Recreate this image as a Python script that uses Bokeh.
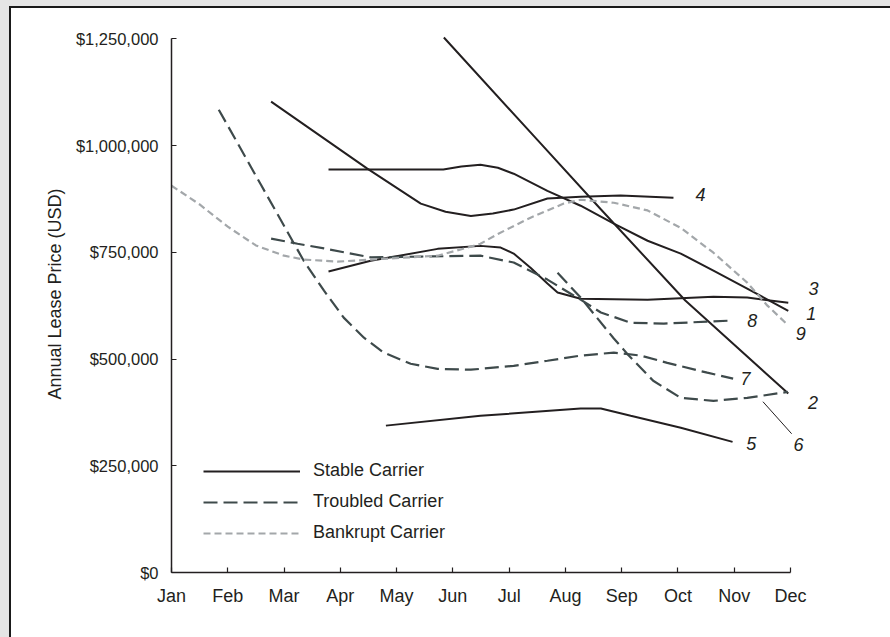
from bokeh.plotting import figure
from bokeh.layouts import column
from bokeh.models import Range1d, FixedTicker, NumeralTickFormatter, Legend, LegendItem
from bokeh.core.properties import value
from bokeh.embed import file_html
from bokeh.resources import INLINE

# ---------------- data (x = month index, Jan = 0; y = USD) ----------------
months = ["Jan", "Feb", "Mar", "Apr", "May", "Jun", "Jul", "Aug", "Sep", "Oct", "Nov", "Dec"]
y_ticks = [0, 250000, 500000, 750000, 1000000, 1250000]

# Stable carriers (solid)
s1_x = [2.79, 4.83, 5.15, 5.49, 5.80, 6.08, 6.68, 7.27, 7.86, 8.46, 9.05, 9.63, 10.23, 10.96]
s1_y = [944e3, 944e3, 951e3, 955e3, 948e3, 934e3, 894e3, 859e3, 817e3, 777e3, 747e3, 707e3, 665e3, 613e3]
s2_x = [4.84, 6.51, 7.62, 9.13, 10.96]
s2_y = [1253e3, 1012e3, 852e3, 637e3, 419e3]
s3_x = [2.79, 3.54, 4.73, 5.49, 5.85, 6.08, 6.38, 6.68, 6.86, 7.27, 8.46, 9.63, 10.23, 10.96]
s3_y = [705e3, 730e3, 758e3, 765e3, 761e3, 747e3, 714e3, 677e3, 656e3, 641e3, 639e3, 646e3, 644e3, 632e3]
s4_x = [1.77, 3.48, 4.07, 4.43, 4.87, 5.32, 5.71, 6.08, 6.68, 7.27, 7.98, 8.92]
s4_y = [1103e3, 946e3, 895e3, 864e3, 845e3, 835e3, 841e3, 850e3, 876e3, 880e3, 883e3, 878e3]
s5_x = [3.81, 5.49, 7.27, 7.63, 8.16, 9.05, 9.97]
s5_y = [344e3, 367e3, 384e3, 384e3, 367e3, 339e3, 306e3]

# Troubled carriers (long dash)
t6_x = [6.86, 7.27, 7.86, 8.10, 8.56, 9.05, 9.63, 10.23, 10.95]
t6_y = [702e3, 644e3, 548e3, 512e3, 449e3, 409e3, 402e3, 409e3, 423e3]
t7_x = [0.84, 1.59, 2.35, 2.71, 3.06, 3.42, 3.77, 4.25, 4.73, 5.32, 6.08, 6.68, 7.27, 7.86, 8.34, 8.81, 9.52, 9.98]
t7_y = [1084e3, 908e3, 730e3, 660e3, 597e3, 550e3, 515e3, 489e3, 477e3, 475e3, 484e3, 496e3, 508e3, 515e3, 508e3, 491e3, 468e3, 454e3]
t8_x = [1.77, 2.24, 2.71, 3.54, 4.43, 5.49, 6.08, 6.68, 7.27, 7.63, 8.16, 8.75, 9.94]
t8_y = [782e3, 770e3, 759e3, 738e3, 740e3, 742e3, 726e3, 686e3, 639e3, 609e3, 585e3, 583e3, 590e3]

# Bankrupt carrier (short dash)
b9_x = [0, 0.5, 1.0, 1.5, 2.0, 2.35, 2.95, 3.54, 4.73, 5.26, 5.49, 5.80, 6.38, 6.97, 7.27, 7.86, 8.46, 9.05, 9.63, 10.23, 10.59, 10.91]
b9_y = [906e3, 862e3, 810e3, 766e3, 742e3, 733e3, 728e3, 733e3, 742e3, 761e3, 770e3, 793e3, 831e3, 864e3, 873e3, 866e3, 848e3, 807e3, 749e3, 679e3, 625e3, 585e3]

# series number labels and the leader line for label 6
num_text = ["1", "2", "3", "4", "5", "6", "7", "8", "9"]
num_x = [11.37, 11.40, 11.41, 9.40, 10.30, 11.14, 10.20, 10.32, 11.18]
num_y = [606e3, 398e3, 665e3, 885e3, 302e3, 299e3, 454e3, 590e3, 559e3]
leader_x = [10.51, 11.02]
leader_y = [400e3, 325e3]

# ---------------- styling ----------------
FONT = "Liberation Sans"
TXT = "#231f20"
C_STABLE = "#231f20"
C_TROUBLED = "#3e4a4b"
C_BANKRUPT = "#a3a7aa"
GRAY = "#e5e5e5"

p = figure(width=879, height=629, output_backend="svg", toolbar_location=None, title=None,
           x_range=Range1d(0, 12.51), y_range=Range1d(0, 1304571),
           min_border_left=160, min_border_right=15, min_border_top=7, min_border_bottom=65,
           border_fill_color="white", background_fill_color="white")
p.outline_line_color = None
p.grid.visible = False

# axes
p.xaxis.ticker = FixedTicker(ticks=list(range(len(months))))
p.xaxis.major_label_overrides = {i: m for i, m in enumerate(months)}
p.xaxis.bounds = (0, 11)
p.yaxis.ticker = FixedTicker(ticks=y_ticks)
p.yaxis.formatter = NumeralTickFormatter(format="$0,0")
p.yaxis.bounds = (0, 1250000)
for ax in (p.xaxis, p.yaxis):
    ax.axis_line_color = TXT
    ax.axis_line_width = 1.5
    ax.major_tick_line_color = TXT
    ax.major_tick_line_width = 1.2
    ax.major_tick_in = 5
    ax.major_tick_out = 0
    ax.minor_tick_in = 0
    ax.minor_tick_out = 0
    ax.major_label_text_font = FONT
    ax.major_label_text_color = TXT
p.xaxis.major_label_text_font_size = "18px"
p.xaxis.major_label_standoff = 13
p.yaxis.major_label_text_font_size = "16.5px"
p.yaxis.major_label_standoff = 13
p.yaxis.axis_label = "Annual Lease Price (USD)"
p.yaxis.axis_label_text_font = FONT
p.yaxis.axis_label_text_font_style = "normal"
p.yaxis.axis_label_text_font_size = "18px"
p.yaxis.axis_label_text_color = TXT
p.yaxis.axis_label_standoff = 8

# lines
solid = dict(line_color=C_STABLE, line_width=2)
troubled = dict(line_color=C_TROUBLED, line_width=2.2, line_dash="14 6")
bankrupt = dict(line_color=C_BANKRUPT, line_width=2.2, line_dash="7 4")

rs = [p.line(s1_x, s1_y, **solid), p.line(s2_x, s2_y, **solid), p.line(s3_x, s3_y, **solid),
      p.line(s4_x, s4_y, **solid), p.line(s5_x, s5_y, **solid)]
rt = [p.line(t6_x, t6_y, **troubled), p.line(t7_x, t7_y, **troubled), p.line(t8_x, t8_y, **troubled)]
rb = [p.line(b9_x, b9_y, **bankrupt)]

p.line(leader_x, leader_y, line_color=C_STABLE, line_width=1)
p.text(x=num_x, y=num_y, text=num_text, text_font=value(FONT), text_font_style="italic",
       text_font_size="18px", text_color=TXT, text_align="center", text_baseline="middle")

legend = Legend(items=[LegendItem(label="Stable Carrier", renderers=[rs[0]]),
                       LegendItem(label="Troubled Carrier", renderers=[rt[0]]),
                       LegendItem(label="Bankrupt Carrier", renderers=[rb[0]])],
                location=(32, 29), glyph_width=97, glyph_height=20, label_height=20,
                label_standoff=13, spacing=10, padding=0, margin=0,
                border_line_alpha=0, background_fill_alpha=0,
                label_text_font=FONT, label_text_font_size="18px", label_text_color=TXT)
p.add_layout(legend)

# white panel with a dark edge on the left/top, on a light gray page
panel = column(p, styles={"background-color": "white"})
edge = column(panel, styles={"background-color": "#1a1a1a", "padding-left": "2px", "padding-top": "2px"})
root = column(edge, styles={"background-color": GRAY, "padding-left": "9px", "padding-top": "6px"})

open("out.html", "w").write(file_html(root, INLINE))
